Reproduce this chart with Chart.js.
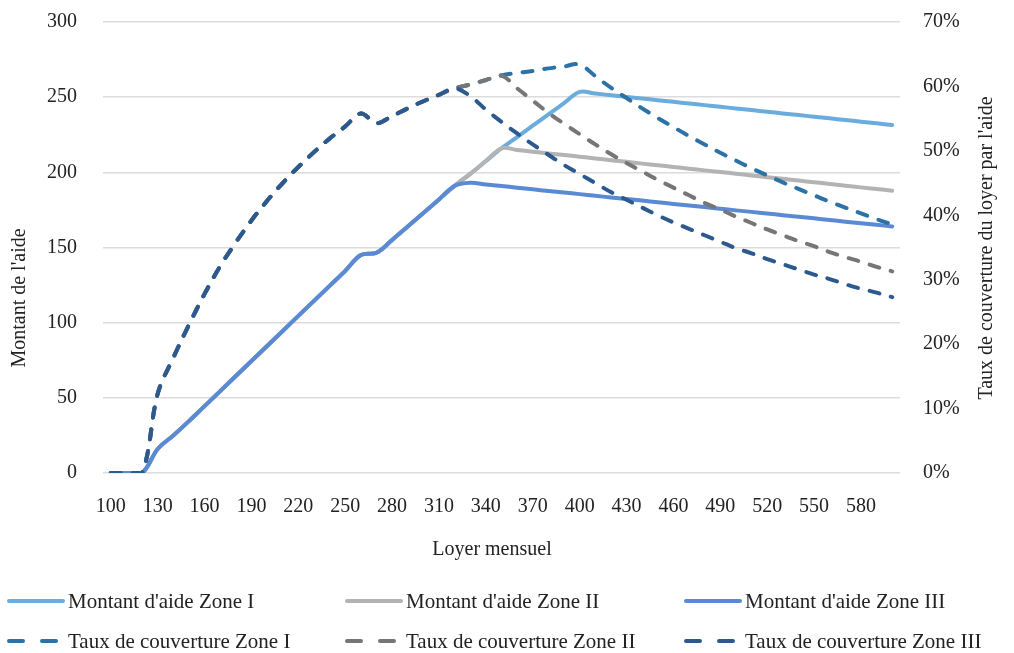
<!DOCTYPE html>
<html>
<head>
<meta charset="utf-8">
<script src="https://cdn.jsdelivr.net/npm/chart.js@4.4.1/dist/chart.umd.min.js"></script>
<style>
html,body{margin:0;padding:0;background:#fff;}
#wrap{position:relative;width:1014px;height:653px;}
</style>
</head>
<body>
<div id="wrap"><canvas id="c" width="1014" height="653"></canvas></div>
<script>
// Loyer mensuel (categories)
const loyers = [100,110,120,130,140,150,160,170,180,190,200,210,220,230,240,250,260,270,280,290,300,310,320,330,340,350,360,370,380,390,400,410,420,430,440,450,460,470,480,490,500,510,520,530,540,550,560,570,580,590,600];

// Montant d'aide
const montantZone1 = [0,0,0,16,25,34.5,44.5,54.5,64.5,74.5,84.5,94.5,104.5,114.5,124.5,134.5,145,146.5,155,164,173,182,191,199,207.5,216,223.5,231,238.5,246,253.5,252.4,251.3,250.2,249.1,248.0,246.9,245.8,244.7,243.6,242.5,241.4,240.3,239.2,238.1,237.0,235.9,234.8,233.7,232.6,231.5];
const montantZone2 = [0,0,0,16,25,34.5,44.5,54.5,64.5,74.5,84.5,94.5,104.5,114.5,124.5,134.5,145,146.5,155,164,173,182,191,199,207.5,216,214.9,213.7,212.6,211.5,210.4,209.2,208.1,207.0,205.8,204.7,203.6,202.4,201.3,200.2,199.1,197.9,196.8,195.7,194.5,193.4,192.3,191.1,190.0,188.9,187.8];
const montantZone3 = [0,0,0,16,25,34.5,44.5,54.5,64.5,74.5,84.5,94.5,104.5,114.5,124.5,134.5,145,146.5,155,164,173,182,191,193,191.9,190.9,189.8,188.7,187.6,186.6,185.5,184.4,183.3,182.3,181.2,180.1,179.0,178.0,176.9,175.8,174.7,173.7,172.6,171.5,170.4,169.4,168.3,167.2,166.1,165.1,164.0];

// Taux de couverture du loyer par l'aide
const tauxZone1 = [0,0,0,0.123,0.179,0.230,0.278,0.321,0.358,0.392,0.4225,0.450,0.475,0.498,0.519,0.538,0.558,0.543,0.554,0.566,0.577,0.587,0.597,0.603,0.610,0.617,0.621,0.624,0.628,0.631,0.634,0.616,0.598,0.582,0.566,0.551,0.537,0.523,0.510,0.497,0.485,0.473,0.462,0.451,0.441,0.431,0.421,0.412,0.403,0.394,0.386];
const tauxZone2 = [0,0,0,0.123,0.179,0.230,0.278,0.321,0.358,0.392,0.4225,0.450,0.475,0.498,0.519,0.538,0.558,0.543,0.554,0.566,0.577,0.587,0.597,0.603,0.610,0.617,0.597,0.578,0.559,0.542,0.526,0.510,0.495,0.481,0.468,0.455,0.443,0.431,0.419,0.409,0.398,0.388,0.378,0.369,0.360,0.352,0.343,0.335,0.328,0.320,0.313];
const tauxZone3 = [0,0,0,0.123,0.179,0.230,0.278,0.321,0.358,0.392,0.4225,0.450,0.475,0.498,0.519,0.538,0.558,0.543,0.554,0.566,0.577,0.587,0.597,0.585,0.564,0.545,0.527,0.510,0.494,0.478,0.464,0.450,0.436,0.424,0.412,0.400,0.389,0.379,0.369,0.359,0.349,0.341,0.332,0.324,0.316,0.308,0.301,0.293,0.286,0.280,0.273];

const leftTicks = [0,50,100,150,200,250,300];
const rightTicks = ['0%','10%','20%','30%','40%','50%','60%','70%'];
const seriesNames = ["Montant d'aide Zone I","Montant d'aide Zone II","Montant d'aide Zone III","Taux de couverture Zone I","Taux de couverture Zone II","Taux de couverture Zone III"];

const FONT = "'Liberation Serif', 'Times New Roman', serif";
const DASH = [10, 12];

function ds(label, data, color, axis, dashed, order) {
  return {
    label, data, yAxisID: axis,
    borderColor: color, backgroundColor: color,
    borderWidth: 4, borderDash: dashed ? DASH : [],
    borderCapStyle: 'round', borderJoinStyle: 'round',
    pointRadius: 0, pointHoverRadius: 0,
    tension: 0.35, fill: false, order,
    _dashed: dashed
  };
}

const colors = ['#6BACDE', '#B3B3B3', '#5A8AD3', '#2B72A6', '#767676', '#2D5A8E'];

const legendPlugin = {
  id: 'customLegend',
  afterDraw(chart) {
    const ctx = chart.ctx;
    const cols = [{x0: 9, x1: 63, tx: 68}, {x0: 347, x1: 401, tx: 406}, {x0: 686, x1: 740, tx: 745}];
    const rows = [601, 641];
    ctx.save();
    ctx.font = "21px " + FONT;
    ctx.textBaseline = 'middle';
    ctx.textAlign = 'left';
    chart.data.datasets.forEach((d, i) => {
      const col = cols[i % 3], y = rows[Math.floor(i / 3)];
      ctx.beginPath();
      ctx.strokeStyle = d.borderColor;
      ctx.lineWidth = 4;
      ctx.lineCap = 'round';
      ctx.setLineDash(d._dashed ? [14, 19] : []);
      ctx.moveTo(col.x0, y);
      ctx.lineTo(col.x1, y);
      ctx.stroke();
      ctx.setLineDash([]);
      ctx.fillStyle = '#222';
      ctx.fillText(d.label, col.tx, y + 1);
    });
    // axis titles
    ctx.font = "20px " + FONT;
    ctx.fillStyle = '#222';
    ctx.textAlign = 'center';
    ctx.fillText('Loyer mensuel', 492, 550);
    ctx.save();
    ctx.translate(20, 298);
    ctx.rotate(-Math.PI / 2);
    ctx.fillText("Montant de l'aide", 0, 0);
    ctx.restore();
    ctx.save();
    ctx.translate(987, 248);
    ctx.rotate(-Math.PI / 2);
    ctx.fillText("Taux de couverture du loyer par l'aide", 0, 0);
    ctx.restore();
    ctx.restore();
  }
};

new Chart(document.getElementById('c'), {
  type: 'line',
  data: {
    labels: loyers,
    datasets: [
      ds(seriesNames[0], montantZone1, colors[0], 'y', false, 6),
      ds(seriesNames[1], montantZone2, colors[1], 'y', false, 5),
      ds(seriesNames[2], montantZone3, colors[2], 'y', false, 4),
      ds(seriesNames[3], tauxZone1, colors[3], 'y1', true, 3),
      ds(seriesNames[4], tauxZone2, colors[4], 'y1', true, 2),
      ds(seriesNames[5], tauxZone3, colors[5], 'y1', true, 1)
    ]
  },
  options: {
    responsive: false,
    animation: false,
    events: [],
    layout: { padding: { top: 22, bottom: 120, left: 0, right: 0 } },
    plugins: { legend: { display: false }, tooltip: { enabled: false }, title: { display: false } },
    scales: {
      x: {
        type: 'category',
        offset: true,
        grid: { display: false, drawTicks: false },
        border: { display: false },
        ticks: {
          autoSkip: false, maxRotation: 0, minRotation: 0, padding: 22,
          color: '#222', font: { family: FONT, size: 20 },
          callback: (v, i) => (i % 3 === 0 ? String(loyers[i]) : '')
        },
        afterFit: s => { s.height = 60; s.paddingLeft = 0; s.paddingRight = 0; }
      },
      y: {
        position: 'left', min: 0, max: 300,
        afterBuildTicks: s => { s.ticks = leftTicks.map(v => ({ value: v })); },
        grid: { color: '#DCDCDC', lineWidth: 1.6, drawTicks: false },
        border: { display: false },
        ticks: { padding: 26, color: '#222', font: { family: FONT, size: 20 }, callback: v => String(v) },
        afterFit: s => { s.width = 103; s.paddingTop = 0; s.paddingBottom = 0; }
      },
      y1: {
        position: 'right', min: 0, max: 0.7,
        afterBuildTicks: s => { s.ticks = rightTicks.map((t, i) => ({ value: i / 10 })); },
        grid: { display: false, drawTicks: false },
        border: { display: false },
        ticks: { padding: 23, color: '#222', font: { family: FONT, size: 20 }, callback: (v, i) => rightTicks[i] },
        afterFit: s => { s.width = 114; s.paddingTop = 0; s.paddingBottom = 0; }
      }
    }
  },
  plugins: [legendPlugin]
});
</script>
</body>
</html>
